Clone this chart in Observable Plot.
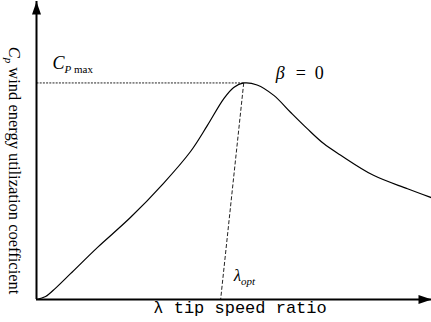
<!DOCTYPE html>
<html>
<head>
<meta charset="utf-8">
<script src="https://cdn.jsdelivr.net/npm/d3@7"></script>
<script src="https://cdn.jsdelivr.net/npm/@observablehq/plot@0.6"></script>
<style>
  html, body { margin: 0; padding: 0; background: #fff; }
</style>
</head>
<body>
<div id="chart"></div>
<script>
// Power coefficient curve Cp(λ) at pitch angle β = 0
const tipSpeedRatio = [0, 0.30, 0.63, 1.12, 2.01, 3.09, 4.18, 5.07, 5.62, 6.16, 6.49, 6.82, 7.26, 7.81, 8.36, 8.91, 9.45, 10.0, 11.09, 12.21, 13.0];
const powerCoeff    = [0, 0.006, 0.023, 0.052, 0.105, 0.165, 0.234, 0.298, 0.350, 0.404, 0.427, 0.436, 0.432, 0.411, 0.377, 0.344, 0.314, 0.291, 0.250, 0.223, 0.205];

const cpMax = 0.436;       // peak of the curve
const lambdaOpt = 6.82;    // tip speed ratio at the peak
const lambdaFoot = 6.06;   // where the optimum guide meets the λ axis
const xMax = 13;
const yMax = 0.6;

const serif = "Liberation Serif";
const mono = "Liberation Mono";

const curve = tipSpeedRatio.map((l, i) => ({l, cp: powerCoeff[i]}));

// filled arrowheads, tip at the anchor point
const arrowUp = {draw(ctx) { ctx.moveTo(0, 0); ctx.lineTo(-4.5, 13); ctx.lineTo(4.5, 13); ctx.closePath(); }};
const arrowRight = {draw(ctx) { ctx.moveTo(0, 0); ctx.lineTo(-13, -4.5); ctx.lineTo(-13, 4.5); ctx.closePath(); }};

const chart = Plot.plot({
  width: 431,
  height: 322,
  marginLeft: 36,
  marginRight: 0,
  marginTop: 1,
  marginBottom: 23,
  x: {domain: [0, xMax], axis: null},
  y: {domain: [0, yMax], axis: null},
  style: {background: "#fff", color: "#000", fontFamily: serif},
  marks: [
    // Cp max guide
    Plot.link([0], {x1: 0, y1: cpMax, x2: lambdaOpt, y2: cpMax, stroke: "#222", strokeWidth: 1, strokeDasharray: "2,1.2"}),
    // λ opt guide
    Plot.link([0], {x1: lambdaOpt, y1: cpMax, x2: lambdaFoot, y2: 0, stroke: "#222", strokeWidth: 1, strokeDasharray: "4,2"}),
    // the Cp(λ) curve
    Plot.line(curve, {x: "l", y: "cp", curve: "catmull-rom", stroke: "#000", strokeWidth: 1.2}),
    // axes with arrows
    Plot.ruleX([0], {stroke: "#000", strokeWidth: 2}),
    Plot.ruleY([0], {stroke: "#000", strokeWidth: 2}),
    Plot.dot([0], {x: 0, y: yMax, symbol: arrowUp, fill: "#000", stroke: null}),
    Plot.dot([0], {x: xMax, y: 0, symbol: arrowRight, fill: "#000", stroke: null}),
    // labels
    Plot.text(["CPmax"], {x: 0, y: cpMax, text: d => d, textAnchor: "start", dx: 16, dy: -20, fontSize: 18, fontFamily: serif}),
    Plot.text(["β = 0"], {x: lambdaOpt, y: cpMax, text: d => d, textAnchor: "start", dx: 32, dy: -10, fontSize: 18, fontFamily: serif}),
    Plot.text(["λopt"], {x: lambdaFoot, y: 0, text: d => d, textAnchor: "start", dx: 13, dy: -24, fontSize: 17, fontFamily: serif}),
    Plot.text(["λ tip speed ratio"], {frameAnchor: "bottom", text: d => d, textAnchor: "middle", dx: 6, dy: 13, fontSize: 17, fontFamily: mono}),
    Plot.text(["Cp wind energy utilization coefficient"], {frameAnchor: "left", text: d => d, textAnchor: "middle", rotate: 90, dx: -22, dy: 20, fontSize: 16.5, fontFamily: serif})
  ]
});

// subscripts, italics and math spacing as tspans
const italic = {"font-style": "italic"};
const rich = {
  "CPmax": [["C", italic], ["P", {"font-style": "italic", "font-size": 11, dy: 4}], [" max", {"font-size": 11}]],
  "β = 0": [["β", italic], ["=", {dx: 11}], ["0", {dx: 9}]],
  "λopt": [["λ", italic], ["opt", {"font-style": "italic", "font-size": 11, dy: 4}]],
  "Cp wind energy utilization coefficient": [["C", italic], ["p", {"font-style": "italic", "font-size": 11, dy: 4}], [" wind energy utilization coefficient", {dy: -4}]]
};
d3.select(chart).selectAll("text").each(function() {
  const parts = rich[this.textContent];
  if (!parts) return;
  this.textContent = "";
  const t = d3.select(this);
  for (const [s, attrs] of parts) {
    const ts = t.append("tspan").text(s);
    for (const [k, v] of Object.entries(attrs)) ts.attr(k, v);
  }
});

document.getElementById("chart").appendChild(chart);
</script>
</body>
</html>
